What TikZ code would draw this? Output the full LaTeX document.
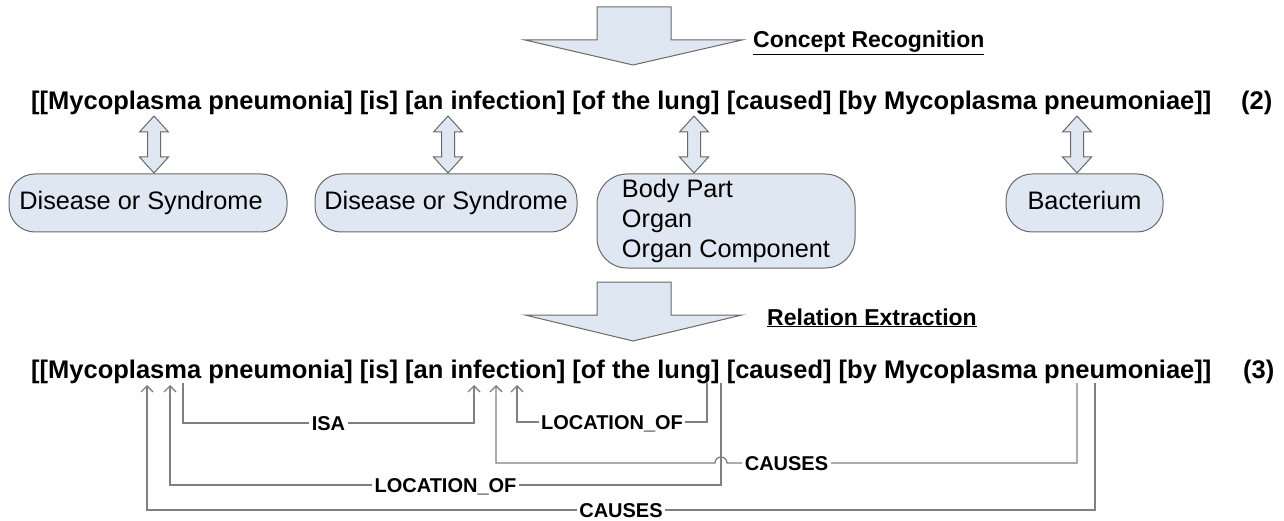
\documentclass[tikz,border=0pt]{standalone}
\usepackage{fontspec}
\setmainfont{Liberation Sans}
\usetikzlibrary{arrows.meta}
\definecolor{fillblue}{RGB}{223,231,243}
\definecolor{edgegray}{RGB}{105,105,105}
\definecolor{relgray}{RGB}{128,128,128}
\newcommand{\dblarr}[3]{\draw[blockarrow] (#1,#2) -- ++(14.5,16) -- ++(-8,0) -- (#1+6.5,#3-16) -- ++(8,0) -- (#1,#3) -- ++(-14.5,-16) -- ++(8,0) -- (#1-6.5,#2+16) -- ++(-8,0) -- cycle;}
\begin{document}
\begin{tikzpicture}[x=1pt,y=-1pt,
  sent/.style={font=\bfseries\fontsize{25.5}{30}\selectfont, inner sep=0pt, anchor=base west},
  cat/.style={draw=edgegray, fill=fillblue, line width=1pt, font=\fontsize{25.3}{30.4}\selectfont, inner sep=0pt, align=left},
  oneline/.style={text height=18.3pt, text depth=5.4pt},
  blockarrow/.style={draw=edgegray, fill=fillblue, line width=1pt, line join=miter},
  rel/.style={draw=relgray, line width=1.3pt},
  relarr/.style={rel, -{Straight Barb[length=6pt,width=12pt]}},
  lab/.style={fill=white, font=\bfseries\fontsize{20}{24}\selectfont, inner xsep=2.5pt, inner ysep=1pt, text height=14.5pt, text depth=0pt},
  title/.style={font=\bfseries\fontsize{23}{27}\selectfont, inner sep=0pt, anchor=base west}
]
\useasboundingbox (0,0) rectangle (1284,521);

% top block arrow
\draw[blockarrow] (597,7) -- (671,7) -- (671,40) -- (742,40) -- (633,65) -- (525,40) -- (597,40) -- cycle;
\node[title] (cr) at (753,48) {\underline{Concept Recognition}};

% sentence (2)
\node[sent] (s2) at (31,110) {[[Mycoplasma pneumonia] [is] [an infection] [of the lung] [caused] [by Mycoplasma pneumoniae]]};
\node[sent] (n2) at (1241,110) {(2)};

% double arrows
\dblarr{154}{116}{173}
\dblarr{448}{116}{173}
\dblarr{694}{116}{173}
\dblarr{1077}{116}{173}

% category boxes
\node[cat, oneline, rounded corners=26pt, minimum width=278pt, minimum height=58pt] (c1) at (148,203) {\hspace*{-14pt}Disease or Syndrome};
\node[cat, oneline, rounded corners=26pt, minimum width=262pt, minimum height=58pt] (c2) at (446,203) {Disease or Syndrome};
\node[cat, rounded corners=30pt, minimum width=258pt, minimum height=94pt] (c3) at (726,221) {Body Part\\Organ\\Organ Component};
\node[cat, oneline, rounded corners=26pt, minimum width=157pt, minimum height=58pt] (c4) at (1084.5,203) {Bacterium};

% second block arrow
\draw[blockarrow] (597,282) -- (671,282) -- (671,315) -- (742,315) -- (633,341) -- (525,315) -- (597,315) -- cycle;
\node[title] (re) at (767,325) {\underline{Relation Extraction}};

% sentence (3)
\node[sent] (s3) at (31,378) {[[Mycoplasma pneumonia] [is] [an infection] [of the lung] [caused] [by Mycoplasma pneumoniae]]};
\node[sent] (n3) at (1243,378) {(3)};

% relation end points
\coordinate (isaS) at (183,383); \coordinate (isaE) at (474,385);
\coordinate (lo1S) at (707,383); \coordinate (lo1E) at (517,385);
\coordinate (ca1S) at (1077,383); \coordinate (ca1E) at (496,385);
\coordinate (lo2S) at (721,383); \coordinate (lo2E) at (170,385);
\coordinate (ca2S) at (1095,383); \coordinate (ca2E) at (147,385);

\draw[relarr] (lo2S) -- (lo2S |- 0,485) -- node[lab]{LOCATION\_OF} (lo2E |- 0,485) -- (lo2E);
\draw[relarr] (isaS) -- (isaS |- 0,423) -- node[lab]{ISA} (isaE |- 0,423) -- (isaE);
\draw[relarr] (lo1S) -- (lo1S |- 0,422) -- node[lab]{LOCATION\_OF} (lo1E |- 0,422) -- (lo1E);
\draw[relarr] (ca1S) -- (ca1S |- 0,463) -- node[lab,pos=0.83]{CAUSES} (727,463) arc[start angle=0, end angle=-180, radius=6] -- (ca1E |- 0,463) -- (ca1E);
\draw[relarr] (ca2S) -- (ca2S |- 0,510) -- node[lab]{CAUSES} (ca2E |- 0,510) -- (ca2E);
\end{tikzpicture}
\end{document}
